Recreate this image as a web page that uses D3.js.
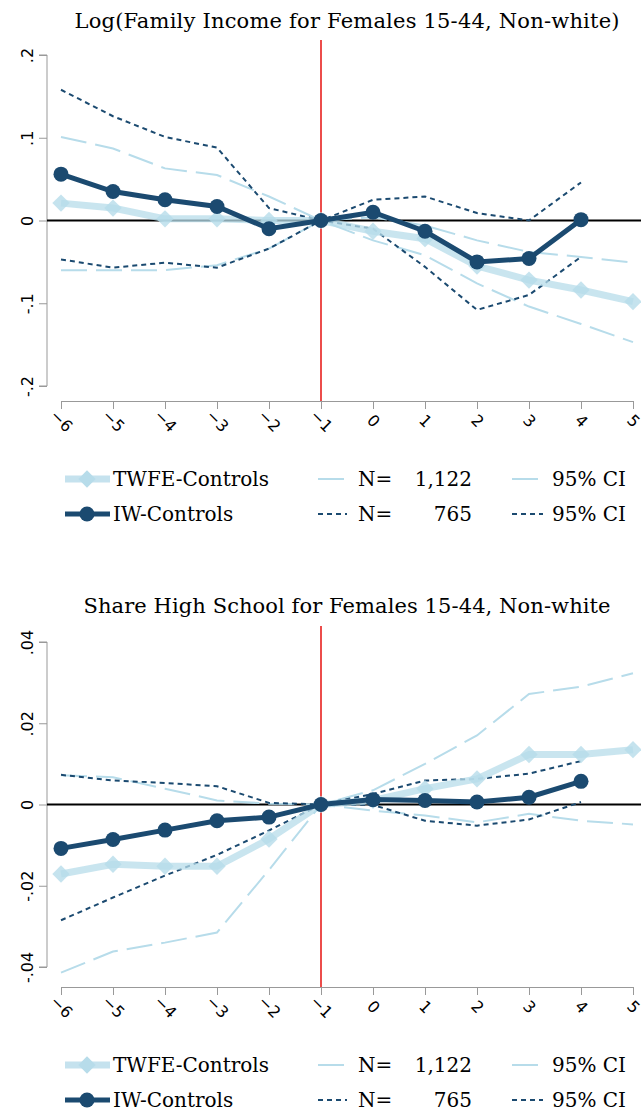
<!DOCTYPE html>
<html><head><meta charset="utf-8">
<script src="https://cdn.jsdelivr.net/npm/d3@7"></script>
<style>body{margin:0;background:#fff}</style></head>
<body><svg id="chart" width="641" height="1115"></svg>
<script>
// event times
var periods = [-6, -5, -4, -3, -2, -1, 0, 1, 2, 3, 4, 5];
var periodsIW = [-6, -5, -4, -3, -2, -1, 0, 1, 2, 3, 4];

// panel 1: log family income
var incTwfe = [0.021, 0.015, 0.002, 0.002, 0, 0, -0.013, -0.022, -0.055, -0.072, -0.084, -0.098];
var incTwfeHi = [0.101, 0.087, 0.063, 0.055, 0.029, 0, 0.004, -0.006, -0.024, -0.038, -0.044, -0.051];
var incTwfeLo = [-0.060, -0.060, -0.060, -0.054, -0.034, 0, -0.024, -0.042, -0.076, -0.104, -0.125, -0.147];
var incIW = [0.056, 0.035, 0.025, 0.017, -0.010, 0, 0.010, -0.013, -0.050, -0.046, 0.001];
var incIWHi = [0.158, 0.126, 0.101, 0.088, 0.015, 0, 0.025, 0.029, 0.009, 0.0, 0.046];
var incIWLo = [-0.047, -0.057, -0.051, -0.057, -0.034, 0, -0.010, -0.056, -0.108, -0.090, -0.044];

// panel 2: share high school
var hsTwfe = [-0.0171, -0.0147, -0.0152, -0.0152, -0.0085, 0, 0.001, 0.0039, 0.0063, 0.0123, 0.0123, 0.0135];
var hsTwfeHi = [0.0072, 0.0067, 0.0039, 0.001, 0.0002, 0, 0.0035, 0.010, 0.017, 0.0272, 0.029, 0.0323];
var hsTwfeLo = [-0.0414, -0.0362, -0.034, -0.0315, -0.0161, 0, -0.0015, -0.0027, -0.0044, -0.0023, -0.004, -0.0049];
var hsIW = [-0.0108, -0.0086, -0.0063, -0.004, -0.0031, 0, 0.0012, 0.001, 0.0006, 0.0018, 0.0057];
var hsIWHi = [0.0073, 0.0059, 0.0053, 0.0045, 0.0004, 0, 0.0026, 0.0059, 0.0063, 0.0076, 0.0107];
var hsIWLo = [-0.0285, -0.0229, -0.0175, -0.0124, -0.0064, 0, -0.0001, -0.004, -0.0052, -0.0037, 0.0006];

var incTicks = [-0.2, -0.1, 0, 0.1, 0.2];
var hsTicks = [-0.04, -0.02, 0, 0.02, 0.04];

var light = "#b7dcea", dark = "#1b4a70";
var svg = d3.select("#chart");
var serif = "'DejaVu Serif', 'Liberation Serif', serif";
var diamond = d3.symbol(d3.symbolSquare, 150)();

function fmt(v) {
  if (v === 0) return "0";
  var s = String(+v.toFixed(3));
  return s.replace("0.", ".");
}

function panel(o) {
  var g = svg.append("g");
  var x = d3.scaleLinear().domain([-6, 5]).range([61, 633]);
  var y = d3.scaleLinear().domain([o.ticks[0], o.ticks[4]]).range([o.yBot, o.yTop]);

  g.append("text").attr("x", 347).attr("y", o.titleY).attr("text-anchor", "middle")
    .attr("font-family", serif).attr("font-size", 21).attr("textLength", o.titleW).text(o.title);

  // y axis
  var ya = g.append("g").attr("transform", "translate(47,0)")
    .call(d3.axisLeft(y).tickValues(o.ticks).tickSize(8).tickFormat(fmt));
  ya.select(".domain").attr("stroke", "#999").attr("d", "M-8," + y(o.ticks[0]) + "H0V" + y(o.ticks[4]) + "H-8");
  ya.selectAll(".tick line").attr("stroke", "#999");
  ya.selectAll(".tick text").attr("transform", "rotate(-90)").attr("x", 0).attr("y", -20)
    .attr("dy", "0.35em").attr("text-anchor", "middle").attr("font-size", 16).attr("fill", "#000")
    .attr("font-family", "'DejaVu Sans', sans-serif");

  // x axis
  var xa = g.append("g").attr("transform", "translate(0," + o.xAxisY + ")")
    .call(d3.axisBottom(x).tickValues(periods).tickSize(8).tickSizeOuter(0));
  xa.select(".domain").attr("stroke", "#999");
  xa.selectAll(".tick line").attr("stroke", "#999");
  xa.selectAll(".tick text").attr("transform", "translate(0,20) rotate(45)").attr("y", 0)
    .attr("dy", "0.35em").attr("text-anchor", "middle").attr("font-size", 16).attr("fill", "#000")
    .attr("font-family", "'DejaVu Sans', sans-serif");

  // zero line and event line
  g.append("line").attr("x1", 47).attr("x2", 641).attr("y1", y(0)).attr("y2", y(0))
    .attr("stroke", "#000").attr("stroke-width", 2);
  g.append("line").attr("x1", x(-1)).attr("x2", x(-1)).attr("y1", o.redTop).attr("y2", o.xAxisY)
    .attr("stroke", "#e8201e").attr("stroke-width", 1.6);

  var line = function (xs) {
    return d3.line().x(function (d, i) { return x(xs[i]); }).y(function (d) { return y(d); });
  };
  function path(data, xs, color, width, dash) {
    g.append("path").datum(data).attr("d", line(xs)).attr("fill", "none")
      .attr("stroke", color).attr("stroke-width", width).attr("stroke-dasharray", dash);
  }
  path(o.twfeHi, periods, light, 2, "26,9");
  path(o.twfeLo, periods, light, 2, "26,9");
  path(o.iwHi, periodsIW, dark, 2, "5,4");
  path(o.iwLo, periodsIW, dark, 2, "5,4");
  g.append("path").datum(o.twfe).attr("d", line(periods)).attr("fill", "none")
    .attr("stroke", light).attr("stroke-width", 7).attr("opacity", 0.75);
  g.selectAll(".dia").data(o.twfe).enter().append("path")
    .attr("d", diamond)
    .attr("transform", function (d, i) { return "translate(" + x(periods[i]) + "," + y(d) + ") rotate(45)"; })
    .attr("fill", light).attr("opacity", 0.8);
  path(o.iw, periodsIW, dark, 5, null);
  g.selectAll(".dot").data(o.iw).enter().append("circle")
    .attr("cx", function (d, i) { return x(periodsIW[i]); }).attr("cy", function (d) { return y(d); })
    .attr("r", 7.5).attr("fill", dark);

  // legend
  var L = g.append("g").attr("font-family", serif).attr("font-size", 20);
  var r1 = o.legY, r2 = o.legY + 35;
  L.append("line").attr("x1", 65).attr("x2", 110).attr("y1", r1).attr("y2", r1).attr("stroke", light).attr("stroke-width", 7).attr("opacity", 0.8);
  L.append("path").attr("d", diamond).attr("transform", "translate(87," + r1 + ") rotate(45)").attr("fill", light);
  L.append("line").attr("x1", 65).attr("x2", 110).attr("y1", r2).attr("y2", r2).attr("stroke", dark).attr("stroke-width", 5);
  L.append("circle").attr("cx", 87).attr("cy", r2).attr("r", 7.5).attr("fill", dark);
  L.append("text").attr("x", 113).attr("y", r1 + 7).text("TWFE-Controls");
  L.append("text").attr("x", 113).attr("y", r2 + 7).text("IW-Controls");
  [[r1, light, "26,9", o.n1], [r2, dark, "5,4", o.n2]].forEach(function (r) {
    L.append("line").attr("x1", 318).attr("x2", 347).attr("y1", r[0]).attr("y2", r[0]).attr("stroke", r[1]).attr("stroke-width", 2).attr("stroke-dasharray", r[2]);
    L.append("text").attr("x", 358).attr("y", r[0] + 7).text("N=");
    L.append("text").attr("x", 472).attr("y", r[0] + 7).attr("text-anchor", "end").text(r[3]);
    L.append("line").attr("x1", 512).attr("x2", 543).attr("y1", r[0]).attr("y2", r[0]).attr("stroke", r[1]).attr("stroke-width", 2).attr("stroke-dasharray", r[2]);
    L.append("text").attr("x", 552).attr("y", r[0] + 7).text("95% CI");
  });
}

panel({ title: "Log(Family Income for Females 15-44, Non-white)", titleY: 28, titleW: 545, ticks: incTicks,
  yTop: 55, yBot: 386, xAxisY: 401, redTop: 40, legY: 479,
  twfe: incTwfe, twfeHi: incTwfeHi, twfeLo: incTwfeLo, iw: incIW, iwHi: incIWHi, iwLo: incIWLo,
  n1: "1,122", n2: "765" });
panel({ title: "Share High School for Females 15-44, Non-white", titleY: 613, titleW: 527, ticks: hsTicks,
  yTop: 642, yBot: 967, xAxisY: 987, redTop: 626, legY: 1065,
  twfe: hsTwfe, twfeHi: hsTwfeHi, twfeLo: hsTwfeLo, iw: hsIW, iwHi: hsIWHi, iwLo: hsIWLo,
  n1: "1,122", n2: "765" });
</script></body></html>
